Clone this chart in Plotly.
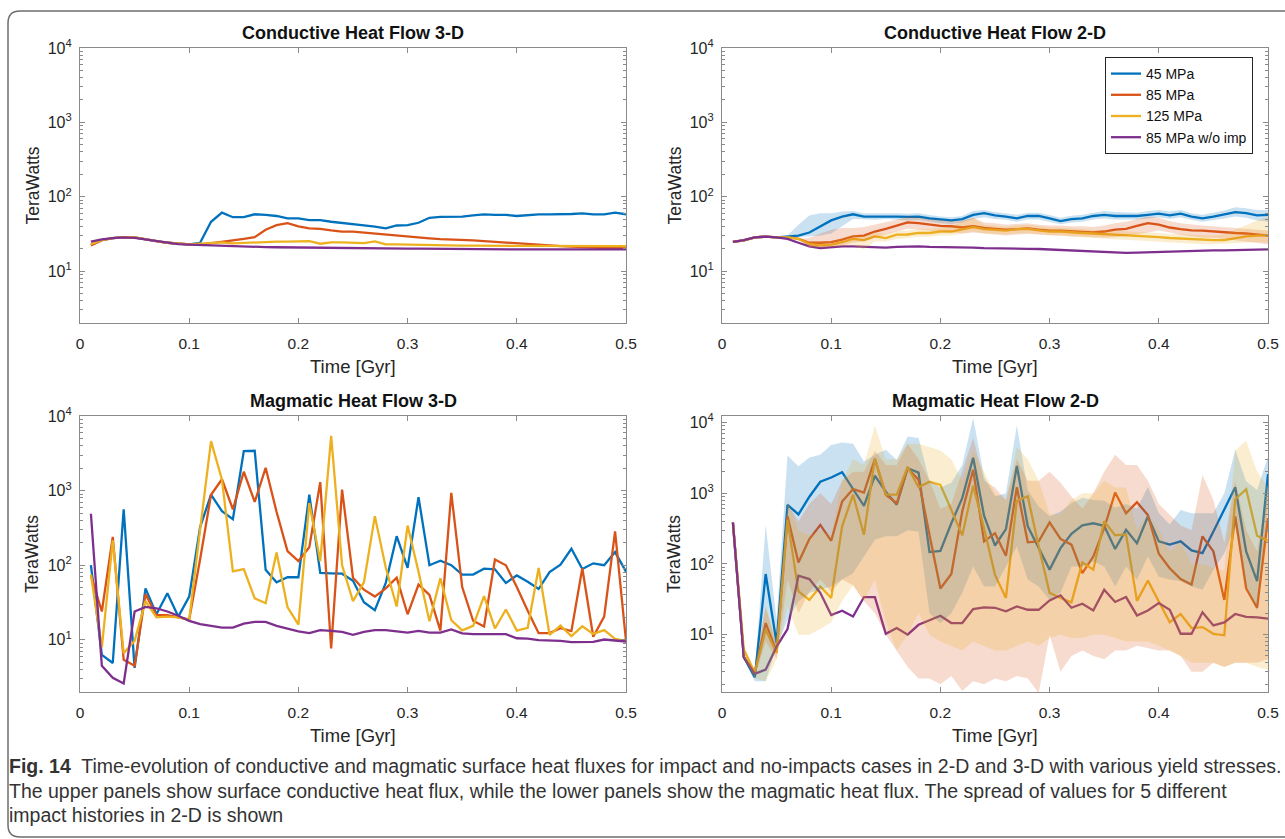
import plotly.graph_objects as go

W, H = 1285, 839

time = [0.01, 0.02, 0.03, 0.04, 0.05, 0.06, 0.07, 0.08, 0.09, 0.10,
        0.11, 0.12, 0.13, 0.14, 0.15, 0.16, 0.17, 0.18, 0.19, 0.20,
        0.21, 0.22, 0.23, 0.24, 0.25, 0.26, 0.27, 0.28, 0.29, 0.30,
        0.31, 0.32, 0.33, 0.34, 0.35, 0.36, 0.37, 0.38, 0.39, 0.40,
        0.41, 0.42, 0.43, 0.44, 0.45, 0.46, 0.47, 0.48, 0.49, 0.50]

series_names = ["45 MPa", "85 MPa", "125 MPa", "85 MPa w/o imp"]
colors = ["#0072BD", "#D95319", "#EDB120", "#7E2F8E"]
band_fill = ["rgba(0,114,189,0.21)", "rgba(217,83,25,0.21)", "rgba(237,177,32,0.21)"]

panel_titles = ["Conductive Heat Flow 3-D", "Conductive Heat Flow 2-D",
                "Magmatic Heat Flow 3-D", "Magmatic Heat Flow 2-D"]
x_ticks = [0, 0.1, 0.2, 0.3, 0.4, 0.5]
x_ticktext = ["0", "0.1", "0.2", "0.3", "0.4", "0.5"]
y_ticks = [10, 100, 1000, 10000]
y_ticktext = ["10<sup>1</sup>", "10<sup>2</sup>", "10<sup>3</sup>", "10<sup>4</sup>"]

# ---------------- Conductive 3-D ----------------
cond3_45 = [22.5, 26, 27.8, 28.5, 28.3, 27, 25.3, 24, 23.2, 22.8,
            24, 46, 61, 53, 53, 58, 57, 55, 51, 51,
            48.5, 48.5, 46, 44, 42.5, 41, 39.5, 37.5, 41, 41.5,
            44.6, 52, 53.5, 53.5, 54, 56, 57.7, 57, 57, 55,
            57, 57.7, 58, 58, 58.5, 59.5, 58, 58, 61, 58]
cond3_85 = [22, 26, 27.8, 28.5, 28.3, 27, 25.3, 24, 23.2, 22.8,
            22.6, 23.5, 24.3, 25.8, 27, 28.6, 36, 41.5, 44, 40,
            37.5, 37, 35.2, 33.8, 33.8, 32.8, 31.7, 30.5, 29.5, 28.6,
            28, 27.5, 26.9, 26.6, 26.6, 25.8, 25.3, 24.8, 24, 23.5,
            23.5, 22.8, 22.1, 21.6, 21.2, 20.8, 20.6, 20.4, 20.4, 20.2]
cond3_125 = [23, 26, 27.8, 28.5, 28.3, 27, 25.3, 24, 23.2, 22.8,
             23.3, 24, 24.3, 23.6, 24, 24, 24.5, 24.8, 24.8, 25,
             25.3, 23.3, 24.3, 24.3, 24, 23.8, 25, 22.8, 22.8, 22.6,
             22.4, 22.1, 22, 22, 22, 21.9, 21.9, 21.8, 21.8, 21.7,
             21.7, 21.7, 21.6, 21.6, 21.6, 21.6, 21.6, 21.6, 21.6, 21.6]
cond3_noimp = [24.8, 26.6, 27.7, 28.3, 28, 26.6, 25, 23.8, 23, 22.6,
               22.3, 22.1, 21.9, 21.7, 21.4, 21.2, 21, 20.9, 20.8, 20.6,
               20.5, 20.4, 20.4, 20.3, 20.3, 20.2, 20.2, 20.1, 20.1, 20,
               20, 19.9, 19.9, 19.8, 19.8, 19.7, 19.7, 19.7, 19.6, 19.5,
               19.5, 19.5, 19.5, 19.5, 19.5, 19.5, 19.5, 19.5, 19.5, 19.5]

# ---------------- Conductive 2-D (mean, low, high) ----------------
cond2_45 = [24.6, 25.9, 28.4, 29, 28.4, 29, 29.9, 33, 40, 48,
            54, 58, 54, 54, 55, 54, 53.5, 54, 51, 49,
            48, 50, 57, 60, 56, 54, 51, 55, 55, 51,
            47, 50, 51, 55, 57, 55, 55, 55, 57, 59,
            56, 59, 54, 51, 54, 57.5, 62, 60, 56, 57]
cond2_45_lo = [24.6, 25.9, 28.4, 29, 28.4, 28.5, 28.5, 29, 30, 32,
               40, 50, 49, 49, 50, 49, 48, 48.5, 46, 44,
               43, 45, 50, 53, 50, 49, 46, 49.5, 49.5, 46,
               42.5, 45, 46, 49.5, 51, 49.5, 49.5, 49.5, 51, 53,
               50, 53, 48.5, 46, 48.5, 51, 54, 52, 48, 46]
cond2_45_hi = [24.6, 25.9, 28.4, 29, 28.4, 30, 42, 56, 60, 60,
               63, 64, 60, 60, 61, 60, 59, 60, 56.5, 54,
               53, 55, 64, 66, 62, 60, 57, 61, 61, 56.5,
               52, 55.5, 57, 61, 64, 62, 61, 61, 64, 66,
               63, 66, 60, 57, 61, 65, 72, 70, 66, 66]
cond2_85 = [24.6, 25.9, 28.4, 29, 28.4, 28.5, 27, 24, 24, 24.4,
            26.5, 29.3, 30, 34, 37, 40.5, 45, 44, 42, 40.5,
            40, 38.5, 40, 38, 37, 36, 36.7, 37.4, 36, 35,
            35, 34, 33.5, 33, 34, 36, 37, 40.5, 44, 42,
            38.5, 36.7, 35.3, 35, 34, 33.4, 32.5, 32, 31, 30]
cond2_85_lo = [24.6, 25.9, 28.4, 29, 28.4, 28.5, 27, 21, 21, 21,
               22, 24, 25, 28, 31, 34, 37, 36, 35, 34,
               33, 32, 33, 32, 31, 30, 31, 31.5, 31, 30,
               30, 29, 29, 28.5, 28, 28.5, 30, 31, 33, 35,
               33, 30.5, 29, 28, 28, 27, 26, 25, 24, 23]
cond2_85_hi = [24.6, 25.9, 28.4, 29, 28.4, 28.5, 27, 28, 32, 36,
               38, 38, 39, 42, 45, 49, 54, 53, 50, 48,
               47, 48, 52, 45, 44, 42, 43, 44, 42, 41,
               41, 40, 40, 39, 41, 44, 46, 50, 54, 52,
               47, 44, 42, 41, 40, 39, 38, 37, 36, 35]
cond2_125 = [24.6, 25.9, 28.4, 29, 28.4, 28.5, 27, 23.2, 22.2, 22.7,
             24.4, 27, 26, 29.3, 27.8, 30.8, 31, 32.5, 32.5, 34,
             34, 36.7, 39, 36.7, 36, 35, 36.7, 37, 35.3, 34,
             34, 33, 32.5, 32, 31.5, 31, 30.2, 30, 29.3, 28.6,
             27.8, 27.2, 27, 26.4, 26, 26, 27.8, 29.3, 30, 30]
cond2_125_lo = [24.6, 25.9, 28.4, 29, 28.4, 28.5, 27, 21, 20.5, 21,
                21.5, 22, 19.5, 25, 25, 27, 28, 29, 29, 30,
                30, 32, 34, 32, 31.5, 31, 32, 32.5, 31, 30,
                30, 29, 28.5, 28, 27.5, 27, 26.5, 26, 25.5, 25,
                24.5, 24, 23.5, 23, 23, 23, 23.5, 24, 24.5, 24]
cond2_125_hi = [24.6, 25.9, 28.4, 29, 28.4, 28.5, 27, 25, 24.5, 25,
                27.5, 30.5, 30, 33, 31.5, 34.5, 35, 36.5, 36.5, 38.5,
                40, 46, 52, 42, 40.5, 39.5, 41, 42, 40, 38.5,
                38.5, 37.5, 37, 36, 35.5, 35, 34, 34, 33, 32.5,
                31.5, 31, 30.5, 30, 30, 31, 36, 42, 48, 54]
cond2_noimp = [24.6, 26, 28.4, 29, 28.4, 27, 24, 21.5, 20.3, 21,
               21.5, 21.5, 21.1, 20.7, 20.7, 21.1, 21.5, 21.5, 21.1, 21,
               21, 21.1, 20.7, 20.3, 20.1, 20, 19.9, 19.9, 19.8, 19.5,
               19, 18.8, 18.8, 18.5, 17.9, 17.6, 17.6, 17.7, 17.9, 17.9,
               18.1, 18.5, 18.9, 19, 19, 19, 19.2, 19.5, 19.5, 19.5]

# ---------------- Magmatic 3-D ----------------
mag3_45 = [100, 6.3, 4.9, 560, 4.2, 49, 22, 42, 20.5, 38,
           325, 885, 530, 415, 3380, 3420, 87, 59, 69, 69,
           885, 79, 78, 77, 62, 32, 25, 58, 245, 92,
           815, 100, 115, 100, 75, 75, 90, 88, 58, 73,
           60, 48, 81, 102, 166, 89, 106, 100, 150, 82]
mag3_85 = [73, 24, 240, 5.4, 4.5, 41, 21.4, 21.4, 20, 18.8,
           120, 880, 1420, 560, 1790, 705, 2020, 520, 155, 114,
           174, 1300, 7.7, 1030, 68, 47, 38, 49, 68, 22,
           55, 40, 13.3, 935, 51, 18, 15.1, 119, 100, 51,
           24.5, 12.3, 12.3, 14.3, 13.1, 91, 11, 20.5, 285, 9.7]
mag3_125 = [75, 7.9, 215, 6.6, 9.7, 33, 20, 20.5, 20, 18.5,
            300, 4600, 1400, 83, 89, 36, 31, 148, 27.5, 16,
            680, 113, 5400, 100, 33, 59, 455, 93, 28, 340,
            82, 17.8, 67, 18.4, 13.4, 15.4, 38.5, 14.2, 25.5, 13.3,
            14.5, 92, 11.7, 15.5, 11.2, 15.2, 12, 13.5, 10.3, 9.7]
mag3_noimp = [490, 4.5, 3.1, 2.6, 24, 27.6, 26.5, 24, 21, 18,
              16.2, 15.4, 14.6, 14.6, 16.5, 17.4, 17.4, 15.4, 14, 13,
              12.3, 13.5, 13.2, 12.8, 11.7, 12.8, 13.5, 13.5, 13, 12.5,
              13.2, 12.5, 12.5, 13.8, 12.2, 11.9, 11.9, 11.9, 11.9, 10.5,
              10.4, 9.9, 9.9, 9.7, 9.3, 9.3, 9.4, 10.1, 9.9, 9.5]

# ---------------- Magmatic 2-D (mean, low, high) ----------------
mag2_45 = [385, 4.8, 2.5, 72, 7.6, 685, 500, 890, 1450, 1660,
           1980, 1120, 660, 1760, 1050, 685, 2250, 1950, 147, 153,
           375, 850, 3170, 480, 182, 310, 2430, 340, 167, 83,
           167, 267, 350, 375, 345, 163, 303, 196, 468, 208,
           187, 208, 155, 142, 287, 580, 1210, 150, 57, 1860]
mag2_45_lo = [385, 4.5, 2.2, 2.2, 6.8, 16, 29.5, 39, 43, 48,
              60, 74, 127, 220, 245, 245, 300, 285, 20, 14.5,
              20, 39, 92, 48, 48, 92, 176, 60, 48, 31,
              39, 92, 92, 108, 92, 48, 92, 60, 127, 66,
              60, 57, 48, 43, 83, 142, 340, 48, 22, 650]
mag2_45_hi = [385, 5.2, 2.8, 355, 16, 3400, 2400, 3200, 3500, 4800,
              5200, 5000, 2800, 3500, 4100, 2950, 6300, 6000, 1500, 1200,
              1400, 2500, 11500, 1700, 900, 1000, 9100, 1100, 650, 470,
              550, 720, 860, 800, 780, 620, 700, 600, 1230, 520,
              360, 580, 520, 520, 520, 1000, 4100, 1470, 1110, 3300]
mag2_85 = [385, 4.8, 2.9, 14.6, 5.8, 470, 105, 225, 355, 212,
           760, 1140, 1020, 3020, 950, 720, 2250, 1540, 258, 45,
           72, 550, 2140, 208, 272, 130, 1210, 202, 208, 385,
           225, 187, 74, 127, 320, 1020, 520, 745, 490, 139,
           87, 61, 51, 245, 150, 31, 470, 45, 24, 445]
mag2_85_lo = [385, 4.5, 2.5, 8, 4.5, 60, 20, 40, 60, 40,
              60, 50, 30, 20, 10, 6, 3.5, 2.4, 2.4, 2.0,
              2.6, 1.6, 2.2, 2.0, 2.4, 2.2, 2.6, 2.4, 1.5, 10,
              3, 5, 6, 5, 4.5, 6, 6, 7, 6.5, 6,
              6, 5, 3, 3, 4, 3.5, 4, 4, 4, 4.5]
mag2_85_hi = [385, 5.2, 3.2, 25, 7, 700, 400, 700, 1000, 700,
              1500, 2000, 2000, 4000, 2500, 2500, 5000, 3000, 1500, 600,
              700, 2000, 6000, 1500, 1200, 800, 3000, 1500, 1500, 2000,
              1400, 900, 600, 1000, 2000, 3500, 2500, 2500, 1500, 700,
              500, 350, 300, 1800, 800, 200, 1500, 300, 150, 1200]
mag2_125 = [385, 6.1, 2.9, 11.8, 5.5, 420, 41, 31, 48, 33,
            340, 950, 258, 3100, 950, 950, 2340, 1210, 1450, 1310,
            580, 253, 1270, 320, 70, 33, 780, 900, 176, 39,
            33, 28.6, 105, 83, 400, 253, 263, 30, 58, 30,
            15, 19.5, 12.4, 12.8, 10.3, 9.8, 820, 1140, 250, 212]
mag2_125_lo = [385, 5, 2.4, 2.2, 4.5, 25, 10, 10, 12, 15,
               30, 50, 30, 60, 15, 6, 10, 20, 10, 8,
               7, 6, 8, 7, 6, 6, 7, 8, 7, 9,
               10, 9, 9, 10, 10, 9, 8, 8, 8, 7,
               6, 5, 4, 4, 4, 3.5, 4, 4, 3.5, 3.2]
mag2_125_hi = [385, 7, 3.2, 25, 8, 800, 300, 250, 300, 250,
               1500, 3000, 2500, 9000, 3000, 3000, 5000, 5000, 4500, 4000,
               3000, 1500, 4000, 2000, 1000, 800, 4500, 3000, 1500, 500,
               500, 800, 1000, 1000, 1500, 1200, 1200, 300, 500, 300,
               150, 200, 100, 100, 90, 80, 4000, 5500, 2000, 1200]
mag2_noimp = [385, 4.8, 2.8, 3.2, 6.8, 12, 68, 61, 39, 19,
              21.8, 18.1, 34, 34, 10.3, 12.4, 10, 13.8, 16, 18.5,
              14.6, 14.6, 23, 24.3, 24, 21.4, 25.1, 22.5, 22.5, 30.5,
              36, 24, 27.4, 22, 43, 29, 34, 18.7, 22, 28,
              22.5, 10.3, 10.3, 20.7, 13.5, 14.9, 19.6, 17.8, 17.6, 16.8]

panels = [
    dict(lines=[cond3_45, cond3_85, cond3_125, cond3_noimp], bands=None),
    dict(lines=[cond2_45, cond2_85, cond2_125, cond2_noimp],
         bands=[(cond2_45_lo, cond2_45_hi), (cond2_85_lo, cond2_85_hi), (cond2_125_lo, cond2_125_hi)]),
    dict(lines=[mag3_45, mag3_85, mag3_125, mag3_noimp], bands=None),
    dict(lines=[mag2_45, mag2_85, mag2_125, mag2_noimp],
         bands=[(mag2_45_lo, mag2_45_hi), (mag2_85_lo, mag2_85_hi), (mag2_125_lo, mag2_125_hi)]),
]

# pixel boxes of the four axes (left, right, top, bottom)
boxes = [(80, 626, 48, 323), (722, 1268, 48, 323), (80, 626, 416, 692), (722, 1268, 416, 692)]
y_ranges = [[0.301, 4], [0.301, 4], [0.301, 4], [0.19, 4.09]]

fig = go.Figure()
FONT = "Liberation Sans, Arial, Helvetica, sans-serif"
TXT = "#262626"
AX = "#8a8a8a"

minor_vals = [m * 10 ** e for e in range(0, 5) for m in range(2, 10)]

for i, p in enumerate(panels):
    xa = "x" if i == 0 else f"x{i+1}"
    ya = "y" if i == 0 else f"y{i+1}"
    for j, vals in enumerate(p["lines"]):
        fig.add_trace(go.Scatter(
            x=time, y=vals, mode="lines", name=series_names[j],
            line=dict(color=colors[j], width=2.3),
            xaxis=xa, yaxis=ya, showlegend=(i == 1), legendrank=j + 1,
            hoverinfo="skip"))
    if p["bands"]:
        for j, (lo, hi) in enumerate(p["bands"]):
            fig.add_trace(go.Scatter(
                x=time + time[::-1], y=hi + lo[::-1], mode="lines",
                fill="toself", fillcolor=band_fill[j], line=dict(width=0),
                xaxis=xa, yaxis=ya, showlegend=False, hoverinfo="skip"))

layout = dict(
    width=W, height=H, autosize=False,
    margin=dict(l=0, r=0, t=0, b=0, autoexpand=False),
    paper_bgcolor="white", plot_bgcolor="white",
    font=dict(family=FONT, color=TXT, size=15),
    showlegend=True,
    legend=dict(x=1105 / W, y=1 - 57 / H, xanchor="left", yanchor="top",
                bgcolor="white", bordercolor="#262626", borderwidth=1,
                font=dict(size=14, family=FONT, color="#111"),
                tracegroupgap=0, itemwidth=30),
)

annotations = []
for i, (l, r, t, b) in enumerate(boxes):
    sx = "" if i == 0 else str(i + 1)
    layout["xaxis" + sx] = dict(
        domain=[l / W, r / W], anchor="y" + sx, range=[0, 0.5],
        tickmode="array", tickvals=x_ticks, ticktext=x_ticktext,
        ticks="inside", ticklen=5, tickcolor=AX, tickwidth=1,
        showline=True, linecolor=AX, linewidth=1.2, mirror="ticks",
        showgrid=False, zeroline=False, ticklabelstandoff=6, automargin=False,
        tickfont=dict(size=15.5, color=TXT))
    layout["yaxis" + sx] = dict(
        domain=[1 - b / H, 1 - t / H], anchor="x" + sx, type="log",
        range=y_ranges[i], tickmode="array", tickvals=y_ticks, ticktext=y_ticktext,
        ticks="inside", ticklen=5, tickcolor=AX, tickwidth=1,
        showline=True, linecolor=AX, linewidth=1.2, mirror="ticks",
        showgrid=False, zeroline=False, ticklabelstandoff=4, automargin=False,
        tickfont=dict(size=16, color=TXT),
        minor=dict(tickmode="array", tickvals=minor_vals, ticks="inside",
                   ticklen=3, tickcolor=AX, showgrid=False))
    cx = (l + r) / 2
    annotations.append(dict(text="<b>" + panel_titles[i] + "</b>", x=cx / W, y=1 - (t - 15) / H,
                            xref="paper", yref="paper", showarrow=False,
                            xanchor="center", yanchor="middle",
                            font=dict(size=18, family=FONT, color="#111")))
    annotations.append(dict(text="Time [Gyr]", x=cx / W, y=1 - (b + 43) / H,
                            xref="paper", yref="paper", showarrow=False,
                            xanchor="center", yanchor="middle",
                            font=dict(size=18.5, family=FONT, color=TXT)))
    annotations.append(dict(text="TeraWatts", x=(l - 48) / W, y=1 - ((t + b) / 2) / H,
                            xref="paper", yref="paper", showarrow=False, textangle=-90,
                            xanchor="center", yanchor="middle",
                            font=dict(size=17.5, family=FONT, color=TXT)))

CAP = "Liberation Sans, Arial, sans-serif"
caption = [
    "<b>Fig. 14</b>  Time-evolution of conductive and magmatic surface heat fluxes for impact and no-impacts cases in 2-D and 3-D with various yield stresses.",
    "The upper panels show surface conductive heat flux, while the lower panels show the magmatic heat flux. The spread of values for 5 different",
    "impact histories in 2-D is shown",
]
for k, line in enumerate(caption):
    annotations.append(dict(text=line, x=7 / W, y=1 - (766 + 24.5 * k) / H,
                            xref="paper", yref="paper", showarrow=False,
                            xanchor="left", yanchor="middle", align="left",
                            font=dict(size=19.5, family=CAP, color="#333")))
layout["annotations"] = annotations

# rounded outer frame
x0, x1 = 8 / W, 1.02
y0, y1 = 1 - 837 / H, 1 - 11 / H
rx, ry = 12 / W, 12 / H
path = (f"M {x0},{y0 + ry} L {x0},{y1 - ry} Q {x0},{y1} {x0 + rx},{y1} "
        f"L {x1},{y1} M {x0},{y0 + ry} Q {x0},{y0} {x0 + rx},{y0} L {x1},{y0}")
layout["shapes"] = [dict(type="path", path=path, xref="paper", yref="paper",
                         line=dict(color="#6e6e6e", width=1.5))]

fig.update_layout(**layout)
fig.write_html("out.html")
